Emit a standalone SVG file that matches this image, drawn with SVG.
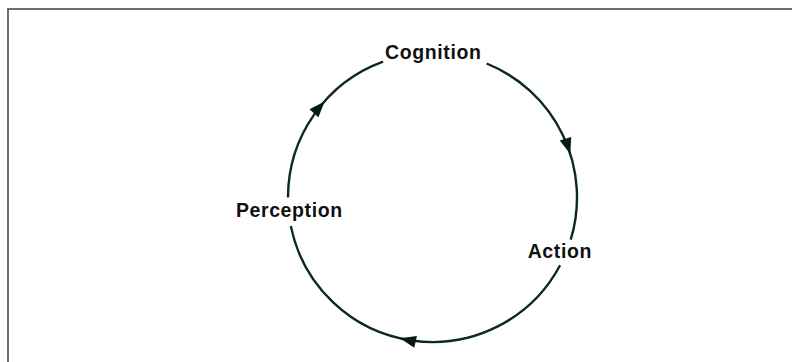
<svg xmlns="http://www.w3.org/2000/svg" width="792" height="362" viewBox="0 0 792 362">
<style>
.arc{fill:none;stroke:#0b2828;stroke-width:2.4}
.lbl{font-family:"Liberation Sans",Arial,Helvetica,sans-serif;font-weight:bold;font-size:19.5px;letter-spacing:0.6px;fill:#111;text-anchor:middle}
.frame{stroke:#6e6e6e;stroke-width:2;fill:none}
</style>
<defs>
<polygon id="ah" points="0,0 -16,-6 -16,6" fill="#061818"/>
</defs>
<rect width="792" height="362" fill="#ffffff"/>
<path class="frame" d="M8,362 V9 H792"/>
<g id="connectors">
<path class="arc" d="M486.6,63.5 A144.5,144.5 0 0 1 570.7,239.7"/>
<path class="arc" d="M560.1,265.3 A144.5,144.5 0 0 1 290.85,226.1"/>
<path class="arc" d="M288,197.5 A144.5,144.5 0 0 1 383.1,61.7"/>
<use href="#ah" transform="translate(570.3,154) rotate(72.5)"/>
<use href="#ah" transform="translate(400,338.3) rotate(193)"/>
<use href="#ah" transform="translate(324.6,101.4) rotate(-48.3)"/>
</g>
<g id="cognition"><text class="lbl" x="433.3" y="59">Cognition</text></g>
<g id="action"><text class="lbl" x="559.8" y="258">Action</text></g>
<g id="perception"><text class="lbl" x="289.3" y="217">Perception</text></g>
</svg>
